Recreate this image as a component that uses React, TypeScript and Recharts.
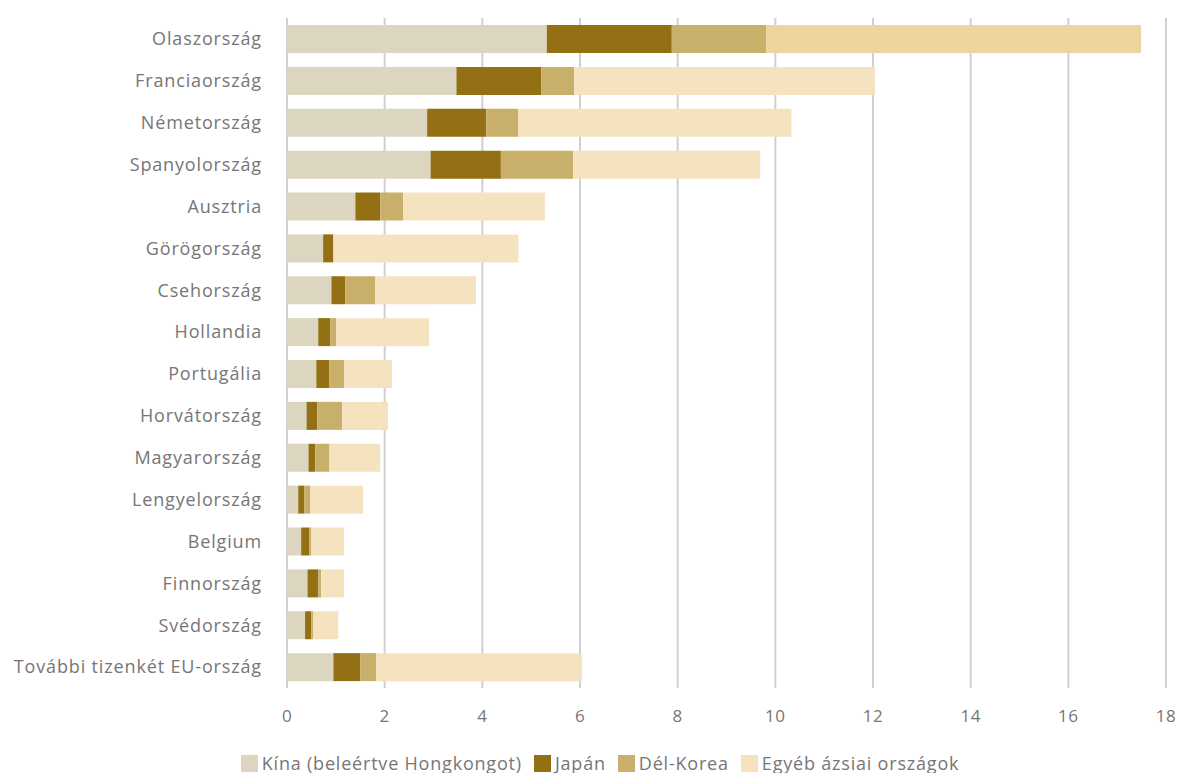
import React from 'react';
import { BarChart, Bar, XAxis, YAxis, CartesianGrid, Legend, Cell } from 'recharts';

// országok (felülről lefelé)
const countries = [
  'Olaszország', 'Franciaország', 'Németország', 'Spanyolország', 'Ausztria',
  'Görögország', 'Csehország', 'Hollandia', 'Portugália', 'Horvátország',
  'Magyarország', 'Lengyelország', 'Belgium', 'Finnország', 'Svédország',
  'További tizenkét EU-ország',
];

const kina = [5.32, 3.47, 2.87, 2.94, 1.40, 0.74, 0.91, 0.64, 0.60, 0.40, 0.44, 0.23, 0.29, 0.42, 0.37, 0.95];
const japan = [2.56, 1.74, 1.21, 1.44, 0.51, 0.21, 0.28, 0.25, 0.27, 0.22, 0.14, 0.12, 0.17, 0.22, 0.13, 0.55];
const delKorea = [1.93, 0.67, 0.66, 1.48, 0.47, 0, 0.62, 0.12, 0.30, 0.51, 0.29, 0.13, 0.04, 0.06, 0.04, 0.33];
const egyeb = [7.68, 6.16, 5.59, 3.83, 2.90, 3.79, 2.06, 1.90, 0.98, 0.94, 1.04, 1.08, 0.67, 0.47, 0.51, 4.21];

const xTicks = [0, 2, 4, 6, 8, 10, 12, 14, 16, 18];

const series = [
  { key: 'kina', name: 'Kína (beleértve Hongkongot)', color: '#DCD6C0' },
  { key: 'japan', name: 'Japán', color: '#937014' },
  { key: 'korea', name: 'Dél-Korea', color: '#C9B06A' },
  { key: 'egyeb', name: 'Egyéb ázsiai országok', color: '#F5E3C0' },
];

const data = countries.map((name, i) => ({
  name,
  kina: kina[i],
  japan: japan[i],
  korea: delKorea[i],
  egyeb: egyeb[i],
}));

const FONT = '"Open Sans", sans-serif';
const TEXT = '#767676';

const LegendContent = () => (
  <div style={{ display: 'flex', justifyContent: 'center', fontFamily: FONT, fontSize: 18, letterSpacing: 0.8, color: TEXT, height: 26, lineHeight: '26px', paddingLeft: 30 }}>
    {series.map(s => (
      <div key={s.key} style={{ display: 'flex', alignItems: 'center', marginRight: 12 }}>
        <span style={{ width: 17, height: 17, background: s.color, display: 'inline-block', marginRight: 4 }} />
        <span>{s.name}</span>
      </div>
    ))}
  </div>
);

export default function App() {
  return (
    <div style={{ position: 'absolute', left: 0, top: 0, width: 1182, height: 773, background: '#fff' }}>
      <BarChart
        width={1182}
        height={773}
        data={data}
        layout="vertical"
        margin={{ top: 18, right: 16, left: 0, bottom: 29 }}
      >
        <CartesianGrid horizontal={false} stroke="#D0D0D0" strokeWidth={2} />
        <XAxis
          type="number"
          domain={[0, 18]}
          ticks={xTicks}
          axisLine={false}
          tickLine={false}
          tickMargin={16}
          height={30}
          tick={{ fill: TEXT, fontSize: 17, fontFamily: FONT, letterSpacing: 0.5 }}
          interval={0}
        />
        <YAxis
          type="category"
          dataKey="name"
          width={287}
          axisLine={false}
          tickLine={false}
          tickMargin={19}
          interval={0}
          tick={{ fill: TEXT, fontSize: 18, fontFamily: FONT, letterSpacing: 0.85 }}
        />
        <Legend
          verticalAlign="bottom"
          content={<LegendContent />}
          wrapperStyle={{ left: 0, width: 1182, top: 750, height: 26 }}
        />
        {series.map(s => (
          <Bar key={s.key} dataKey={s.key} name={s.name} stackId="a" fill={s.color} barSize={28} isAnimationActive={false}>
            {s.key === 'egyeb' &&
              data.map((d, i) => <Cell key={`c-${i}`} fill={i === 0 ? '#EDD5A0' : s.color} />)}
          </Bar>
        ))}
      </BarChart>
    </div>
  );
}
